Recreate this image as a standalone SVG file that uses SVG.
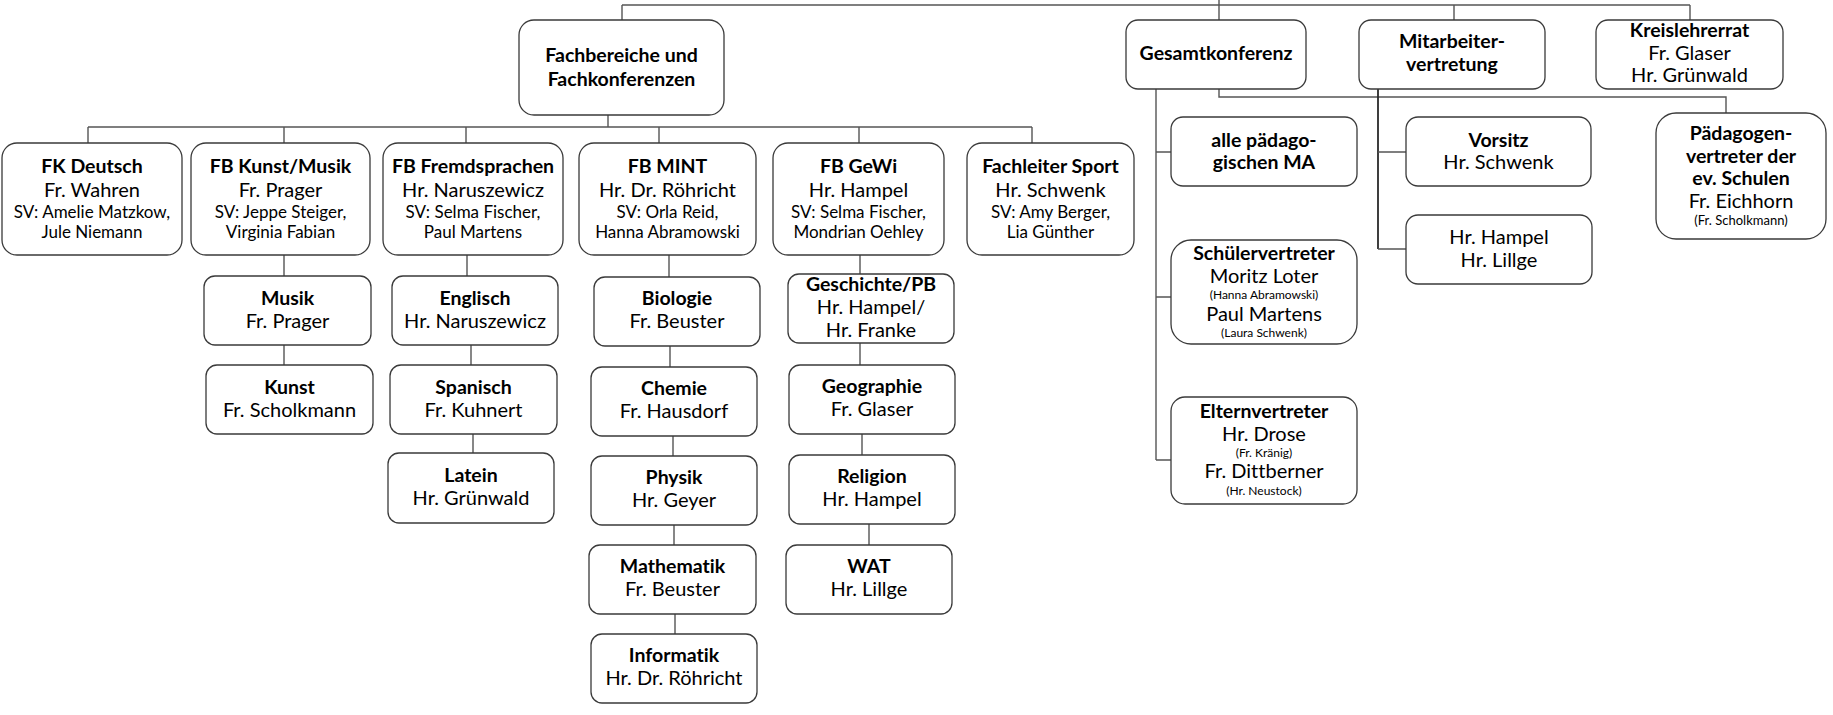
<svg xmlns="http://www.w3.org/2000/svg" width="1833" height="715" viewBox="0 0 1833 715">
<style>
.bx{fill:#fff;stroke:#3a3a3a;stroke-width:1.3}
.c{fill:none;stroke:#555;stroke-width:1.4}
.cd{fill:none;stroke:#2a2a2a;stroke-width:1.8}
text{font-family:Lato,"Open Sans","Liberation Sans",sans-serif;text-anchor:middle;fill:#000;font-variant-ligatures:none;font-feature-settings:"liga" 0}
.b{font-weight:bold;font-size:19.5px}
.n{font-size:20px}
.s{font-size:17px}
.x{font-size:12px}
.x13{font-size:13px}
</style>
<rect width="1833" height="715" fill="#fff"/>
<g id="connectors">
<path class="c" d="M622 5H1690M622 5V20M1219 0V20M1454 5V20M1690 5V20"/>
<path class="c" d="M608 115V127M88 127H1032M88 127V143M284 127V143M466 127V143M659 127V143M859 127V143M1032 127V143"/>
<path class="c" d="M284 255V276M284 345V365"/>
<path class="c" d="M467 255V276M471 345V365M473 434V453"/>
<path class="c" d="M669 255V277M670 346V367M673 436V456M674 525V545M675 614V634"/>
<path class="c" d="M860 255V274M860 343V365M862 434V455M869 524V545"/>
<path class="c" d="M1156 89V460M1156 152H1171M1156 297H1171M1156 460H1171"/>
<path class="c" d="M1219 89V97H1726V113"/>
<path class="cd" d="M1378 89V249"/>
<path class="c" d="M1378 152H1406M1378 249H1406"/>
</g>
<g id="fachbereiche"><rect class="bx" x="519" y="20" width="205" height="95" rx="15"/><text class="b" x="621.5" y="62">Fachbereiche und</text><text class="b" x="621.5" y="86">Fachkonferenzen</text></g>
<g id="gesamtkonferenz"><rect class="bx" x="1126" y="20" width="180" height="69" rx="12"/><text class="b" x="1216" y="60">Gesamtkonferenz</text></g>
<g id="mitarbeitervertretung"><rect class="bx" x="1359" y="20" width="186" height="69" rx="12"/><text class="b" x="1452" y="48">Mitarbeiter-</text><text class="b" x="1452" y="71">vertretung</text></g>
<g id="kreislehrerrat"><rect class="bx" x="1596" y="20" width="187" height="69" rx="12"/><text class="b" x="1689.5" y="37">Kreislehrerrat</text><text class="n" x="1689.5" y="60">Fr. Glaser</text><text class="n" x="1689.5" y="82">Hr. Grünwald</text></g>

<g id="fk-deutsch"><rect class="bx" x="2" y="143" width="180" height="112" rx="15"/><text class="b" x="92" y="173">FK Deutsch</text><text class="n" x="92" y="197">Fr. Wahren</text><text class="s" x="92" y="218">SV: Amelie Matzkow,</text><text class="s" x="92" y="238">Jule Niemann</text></g>
<g id="fb-kunst-musik"><rect class="bx" x="191" y="143" width="179" height="112" rx="15"/><text class="b" x="280.5" y="173">FB Kunst/Musik</text><text class="n" x="280.5" y="197">Fr. Prager</text><text class="s" x="280.5" y="218">SV: Jeppe Steiger,</text><text class="s" x="280.5" y="238">Virginia Fabian</text></g>
<g id="fb-fremdsprachen"><rect class="bx" x="383" y="143" width="180" height="112" rx="15"/><text class="b" x="473" y="173">FB Fremdsprachen</text><text class="n" x="473" y="197">Hr. Naruszewicz</text><text class="s" x="473" y="218">SV: Selma Fischer,</text><text class="s" x="473" y="238">Paul Martens</text></g>
<g id="fb-mint"><rect class="bx" x="579" y="143" width="177" height="112" rx="15"/><text class="b" x="667.5" y="173">FB MINT</text><text class="n" x="667.5" y="197">Hr. Dr. Röhricht</text><text class="s" x="667.5" y="218">SV: Orla Reid,</text><text class="s" x="667.5" y="238">Hanna Abramowski</text></g>
<g id="fb-gewi"><rect class="bx" x="773" y="143" width="171" height="112" rx="15"/><text class="b" x="858.5" y="173">FB GeWi</text><text class="n" x="858.5" y="197">Hr. Hampel</text><text class="s" x="858.5" y="218">SV: Selma Fischer,</text><text class="s" x="858.5" y="238">Mondrian Oehley</text></g>
<g id="fachleiter-sport"><rect class="bx" x="967" y="143" width="167" height="112" rx="15"/><text class="b" x="1050.5" y="173">Fachleiter Sport</text><text class="n" x="1050.5" y="197">Hr. Schwenk</text><text class="s" x="1050.5" y="218">SV: Amy Berger,</text><text class="s" x="1050.5" y="238">Lia Günther</text></g>

<g id="musik"><rect class="bx" x="204" y="276" width="167" height="69" rx="11"/><text class="b" x="287.5" y="305">Musik</text><text class="n" x="287.5" y="328">Fr. Prager</text></g>
<g id="kunst"><rect class="bx" x="206" y="365" width="167" height="69" rx="11"/><text class="b" x="289.5" y="394">Kunst</text><text class="n" x="289.5" y="417">Fr. Scholkmann</text></g>
<g id="englisch"><rect class="bx" x="392" y="276" width="166" height="69" rx="11"/><text class="b" x="475" y="305">Englisch</text><text class="n" x="475" y="328">Hr. Naruszewicz</text></g>
<g id="spanisch"><rect class="bx" x="390" y="365" width="167" height="69" rx="11"/><text class="b" x="473.5" y="394">Spanisch</text><text class="n" x="473.5" y="417">Fr. Kuhnert</text></g>
<g id="latein"><rect class="bx" x="388" y="453" width="166" height="70" rx="11"/><text class="b" x="471" y="482">Latein</text><text class="n" x="471" y="505">Hr. Grünwald</text></g>

<g id="biologie"><rect class="bx" x="594" y="277" width="166" height="69" rx="11"/><text class="b" x="677" y="305">Biologie</text><text class="n" x="677" y="328">Fr. Beuster</text></g>
<g id="chemie"><rect class="bx" x="591" y="367" width="166" height="69" rx="11"/><text class="b" x="674" y="395">Chemie</text><text class="n" x="674" y="418">Fr. Hausdorf</text></g>
<g id="physik"><rect class="bx" x="591" y="456" width="166" height="69" rx="11"/><text class="b" x="674" y="484">Physik</text><text class="n" x="674" y="507">Hr. Geyer</text></g>
<g id="mathematik"><rect class="bx" x="589" y="545" width="167" height="69" rx="11"/><text class="b" x="672.5" y="573">Mathematik</text><text class="n" x="672.5" y="596">Fr. Beuster</text></g>
<g id="informatik"><rect class="bx" x="591" y="634" width="166" height="69" rx="11"/><text class="b" x="674" y="662">Informatik</text><text class="n" x="674" y="685">Hr. Dr. Röhricht</text></g>

<g id="geschichte"><rect class="bx" x="788" y="274" width="166" height="69" rx="11"/><text class="b" x="871" y="291">Geschichte/PB</text><text class="n" x="871" y="314">Hr. Hampel/</text><text class="n" x="871" y="337">Hr. Franke</text></g>
<g id="geographie"><rect class="bx" x="789" y="365" width="166" height="69" rx="11"/><text class="b" x="872" y="393">Geographie</text><text class="n" x="872" y="416">Fr. Glaser</text></g>
<g id="religion"><rect class="bx" x="789" y="455" width="166" height="69" rx="11"/><text class="b" x="872" y="483">Religion</text><text class="n" x="872" y="506">Hr. Hampel</text></g>
<g id="wat"><rect class="bx" x="786" y="545" width="166" height="69" rx="11"/><text class="b" x="869" y="573">WAT</text><text class="n" x="869" y="596">Hr. Lillge</text></g>

<g id="alle-paedagogischen-ma"><rect class="bx" x="1171" y="117" width="186" height="69" rx="12"/><text class="b" x="1264" y="147">alle pädago-</text><text class="b" x="1264" y="169">gischen MA</text></g>
<g id="schuelervertreter"><rect class="bx" x="1171" y="240" width="186" height="104" rx="20"/><text class="b" x="1264" y="260">Schülervertreter</text><text class="n" x="1264" y="283">Moritz Loter</text><text class="x" x="1264" y="299">(Hanna Abramowski)</text><text class="n" x="1264" y="321">Paul Martens</text><text class="x" x="1264" y="337">(Laura Schwenk)</text></g>
<g id="elternvertreter"><rect class="bx" x="1171" y="397" width="186" height="107" rx="14"/><text class="b" x="1264" y="418">Elternvertreter</text><text class="n" x="1264" y="441">Hr. Drose</text><text class="x" x="1264" y="457">(Fr. Kränig)</text><text class="n" x="1264" y="478">Fr. Dittberner</text><text class="x" x="1264" y="495">(Hr. Neustock)</text></g>
<g id="vorsitz"><rect class="bx" x="1406" y="117" width="185" height="69" rx="12"/><text class="b" x="1498.5" y="147">Vorsitz</text><text class="n" x="1498.5" y="169">Hr. Schwenk</text></g>
<g id="hampel-lillge"><rect class="bx" x="1406" y="215" width="186" height="69" rx="12"/><text class="n" x="1499" y="244">Hr. Hampel</text><text class="n" x="1499" y="267">Hr. Lillge</text></g>
<g id="paedagogenvertreter"><rect class="bx" x="1656" y="113" width="170" height="126" rx="20"/><text class="b" x="1741" y="140">Pädagogen-</text><text class="b" x="1741" y="163">vertreter der</text><text class="b" x="1741" y="185">ev. Schulen</text><text class="n" x="1741" y="208">Fr. Eichhorn</text><text class="x13" x="1741" y="225">(Fr. Scholkmann)</text></g>
</svg>
